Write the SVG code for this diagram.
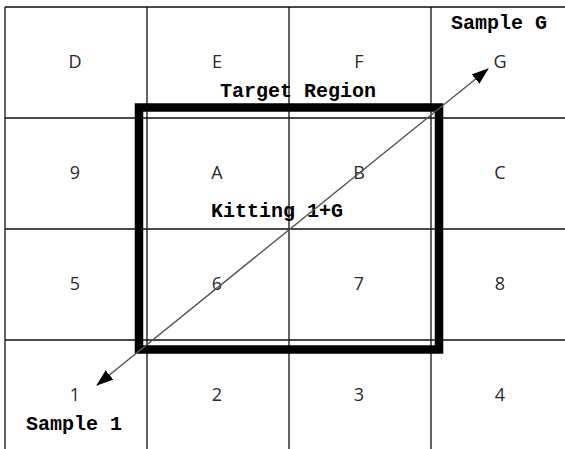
<svg xmlns="http://www.w3.org/2000/svg" width="565" height="449" viewBox="0 0 565 449">
<defs>
<style>
.grid{stroke:#111;stroke-width:1.3;fill:none}
.lbl{font-family:"Open Sans","Noto Sans","Liberation Sans",sans-serif;font-size:18px;fill:#2a2a2a;text-anchor:middle}
.bold{font-family:"Liberation Mono","DejaVu Sans Mono",monospace;font-weight:bold;font-size:20px;fill:#000;text-anchor:middle}
.conn{stroke:#555;stroke-width:1.4;fill:none}
</style>
<marker id="ah" viewBox="0 0 17 12" refX="16" refY="6" markerWidth="17" markerHeight="12" markerUnits="userSpaceOnUse" orient="auto-start-reverse">
<path d="M0,0 L17,6 L0,12 Z" fill="#000"/>
</marker>
</defs>
<rect width="565" height="449" fill="#fff"/>
<g id="grid">
<path class="grid" d="M5,7 H565 M5,118 H565 M5,229 H565 M5,340 H565 M5,7 V449 M147,7 V449 M289,7 V449 M431,7 V449"/>
</g>
<g id="cells">
<g id="cell-D"><text class="lbl" x="75" y="68">D</text></g>
<g id="cell-E"><text class="lbl" x="217" y="68">E</text></g>
<g id="cell-F"><text class="lbl" x="359" y="68">F</text></g>
<g id="cell-G"><text class="lbl" x="500" y="68">G</text></g>
<g id="cell-9"><text class="lbl" x="75" y="179">9</text></g>
<g id="cell-A"><text class="lbl" x="217" y="179">A</text></g>
<g id="cell-B"><text class="lbl" x="359" y="179">B</text></g>
<g id="cell-C"><text class="lbl" x="500" y="179">C</text></g>
<g id="cell-5"><text class="lbl" x="75" y="290">5</text></g>
<g id="cell-6"><text class="lbl" x="217" y="290">6</text></g>
<g id="cell-7"><text class="lbl" x="359" y="290">7</text></g>
<g id="cell-8"><text class="lbl" x="500" y="290">8</text></g>
<g id="cell-1"><text class="lbl" x="75" y="401">1</text></g>
<g id="cell-2"><text class="lbl" x="217" y="401">2</text></g>
<g id="cell-3"><text class="lbl" x="359" y="401">3</text></g>
<g id="cell-4"><text class="lbl" x="500" y="401">4</text></g>
</g>
<g id="target-region">
<rect x="139" y="107.5" width="300" height="242" fill="none" stroke="#000" stroke-width="8.5"/>
<text class="bold" x="298" y="97">Target Region</text>
<text class="bold" x="277" y="217">Kitting 1+G</text>
</g>
<g id="sample-G"><text class="bold" x="499" y="29">Sample G</text></g>
<g id="sample-1"><text class="bold" x="74" y="430">Sample 1</text></g>
<g id="connectors">
<line class="conn" x1="97" y1="385" x2="488" y2="69" marker-start="url(#ah)" marker-end="url(#ah)"/>
</g>
</svg>
